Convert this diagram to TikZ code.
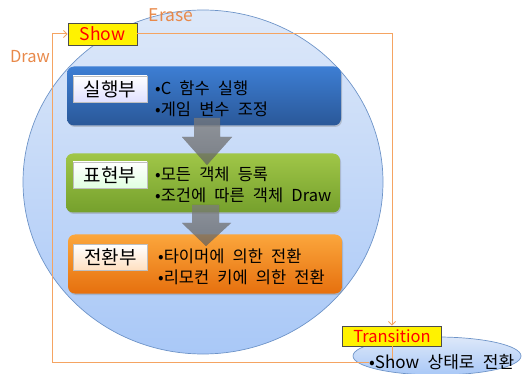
\documentclass[tikz,border=0pt]{standalone}
\usepackage{fontspec}
\setmainfont[WordSpace=2.2]{Noto Sans CJK KR}
\usetikzlibrary{shapes.geometric,arrows.meta,shadows}
\definecolor{olin}{HTML}{F5A462}
\definecolor{otxt}{HTML}{E8894A}
\definecolor{circtop}{HTML}{DDE8F9}
\definecolor{circbot}{HTML}{A9C8F7}
\definecolor{circedge}{HTML}{6E94C8}
\definecolor{bluetop}{HTML}{3D7ED4}
\definecolor{bluebot}{HTML}{2A5898}
\definecolor{greentop}{HTML}{A0C648}
\definecolor{greenbot}{HTML}{75A02C}
\definecolor{orangetop}{HTML}{FBA63C}
\definecolor{orangebot}{HTML}{E6700E}
\tikzset{
  oline/.style={draw=olin, line width=1pt},
  otip/.style={-{Straight Barb[length=3.5pt,width=7pt]}},
  bigbox/.style={rounded corners=7pt, minimum width=274pt, minimum height=59pt, draw=none, drop shadow={shadow xshift=1pt,shadow yshift=-1.5pt,opacity=0.35}},
  lbl/.style={minimum width=74pt, minimum height=26pt, inner sep=0pt, font=\fontsize{19}{21}\selectfont, draw=black!25, line width=0.4pt},
  bul/.style={anchor=west, align=left, inner sep=0pt, font=\fontsize{16.5}{20.5}\selectfont},
  tag/.style={fill=yellow, draw=black!70, line width=0.6pt, inner sep=0pt, text=red},
  garrow/.style={top color=gray!55, bottom color=gray!85, opacity=0.5},
}
\begin{document}
\begin{tikzpicture}[x=1pt,y=-1pt]
\useasboundingbox (0,0) rectangle (522,374);
% big circle
\node[ellipse, minimum width=360pt, minimum height=344pt, draw=circedge, line width=0.7pt, top color=circtop, bottom color=circbot] (circ) at (203,182) {};
% bottom-right ellipse
\node[ellipse, minimum width=168pt, minimum height=38pt, draw=circedge, line width=0.7pt, top color=circtop, bottom color=circbot] (ell) at (437,356) {};
% tags
\node[tag, minimum width=69pt, minimum height=22pt, font=\fontsize{17.5}{19}\selectfont] (show) at (102.5,34) {Show};
\node[tag, minimum width=99pt, minimum height=20pt, font=\fontsize{16.5}{18}\selectfont] (trans) at (392,336) {Transition};
\coordinate (eend) at (369,362);
\coordinate (cl) at (52,363);
% connectors
\draw[oline, otip] (show.east) -| (trans.north);
\draw[oline] (trans.south) -- ([yshift=-1pt]trans.south |- eend);
\draw[oline, otip] (eend) -- (eend -| cl) |- (show.west);
\node[inner sep=0pt, anchor=west, font=\fontsize{17}{19}\selectfont] (etext) at (eend) {•Show 상태로 전환};
% labels
\node[text=otxt, font=\fontsize{17.5}{19}\selectfont, inner sep=0pt] (erase) at (171,15) {Erase};
\node[text=otxt, font=\fontsize{16.5}{19}\selectfont, inner sep=0pt] (drawl) at (30,57) {Draw};
% big boxes
\node[bigbox, top color=bluetop, bottom color=bluebot] (b1) at (204,96) {};
\node[bigbox, top color=greentop, bottom color=greenbot] (b2) at (203,183) {};
\node[bigbox, top color=orangetop, bottom color=orangebot] (b3) at (205,264) {};
% small labels
\node[lbl, top color=white, bottom color=blue!12] (l1) at (110,89) {실행부};
\node[lbl, top color=white, bottom color=green!12] (l2) at (110,175) {표현부};
\node[lbl, top color=white, bottom color=orange!25] (l3) at (110.5,257.5) {전환부};
% bullet texts
\node[bul] (t1) at (155,99) {•C 함수 실행\\•게임 변수 조정};
\node[bul] (t2) at (155,185) {•모든 객체 등록\\•조건에 따른 객체 Draw};
\node[bul] (t3) at (158,267) {•타이머에 의한 전환\\•리모컨 키에 의한 전환};
% gray block arrows
\fill[garrow] (194,118) -- (220,118) -- (220,137) -- (232,137) -- (207,165) -- (182,137) -- (194,137) -- cycle;
\fill[garrow] (192,205) -- (219,205) -- (219,223) -- (231,223) -- (206,246) -- (182,223) -- (192,223) -- cycle;
\end{tikzpicture}
\end{document}
